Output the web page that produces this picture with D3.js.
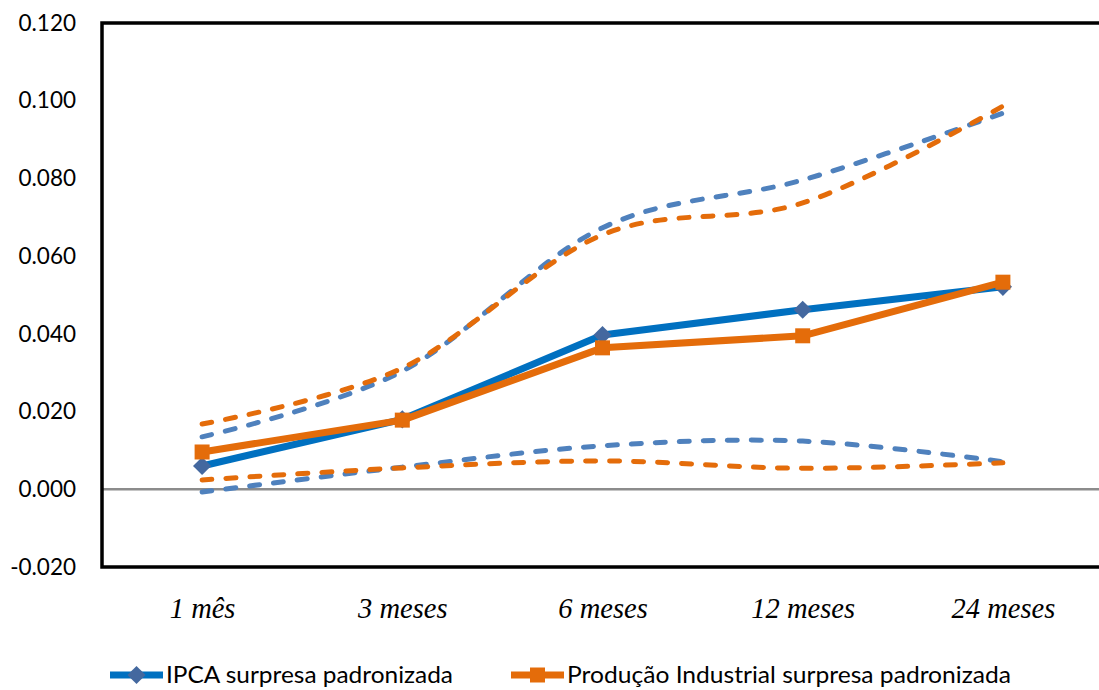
<!DOCTYPE html>
<html>
<head>
<meta charset="utf-8">
<script src="https://cdn.jsdelivr.net/npm/d3@7"></script>
<style>
  html, body { margin: 0; padding: 0; background: #fff; }
  svg { display: block; }
</style>
</head>
<body>
<svg id="chart" width="1099" height="690"></svg>
<script>
// Horizons (categories)
const horizons = ["1 mês", "3 meses", "6 meses", "12 meses", "24 meses"];

// IPCA: point response and confidence band
const ipcaMid   = [0.0060, 0.0180, 0.0397, 0.0462, 0.0521];
const ipcaUpper = [0.0135, 0.0304, 0.0673, 0.0796, 0.0968];
const ipcaLower = [-0.0007, 0.0057, 0.0112, 0.0124, 0.0071];

// Produção Industrial: point response and confidence band
const piMid   = [0.0096, 0.0178, 0.0364, 0.0395, 0.0533];
const piUpper = [0.0168, 0.0312, 0.0655, 0.0737, 0.0986];
const piLower = [0.0024, 0.0055, 0.0073, 0.0054, 0.0068];

// Y axis ticks
const yTicks = [-0.020, 0.000, 0.020, 0.040, 0.060, 0.080, 0.100, 0.120];

const legendLabels = ["IPCA surpresa padronizada", "Produção Industrial surpresa padronizada"];

const BLUE = "#0070C0", BLUE_DASH = "#4F81BD", BLUE_MARK = "#44689F";
const ORANGE = "#E46C0A";

const svg = d3.select("#chart");

const plot = { left: 102, right: 1103, top: 23, bottom: 567 };

const x = d3.scalePoint()
  .domain(horizons)
  .range([plot.left, plot.right])
  .padding(0.5);

const y = d3.scaleLinear()
  .domain([-0.020, 0.120])
  .range([plot.bottom, plot.top]);

// zero reference line
svg.append("line")
  .attr("x1", plot.left).attr("x2", 1099)
  .attr("y1", y(0)).attr("y2", y(0))
  .attr("stroke", "#8C8C8C").attr("stroke-width", 2.5);

// Y axis labels
const yAxis = d3.axisLeft(y)
  .tickValues(yTicks)
  .tickSize(0)
  .tickPadding(26)
  .tickFormat(d => d.toFixed(3));

const gy = svg.append("g")
  .attr("transform", `translate(${plot.left},0)`)
  .call(yAxis);
gy.select(".domain").remove();
gy.selectAll("text")
  .attr("font-family", "Lato, 'Open Sans', sans-serif")
  .attr("font-size", 22.5)
  .attr("fill", "#000");

// X axis labels
const xAxis = d3.axisBottom(x).tickSize(0).tickPadding(0);
const gx = svg.append("g")
  .attr("transform", `translate(0,${plot.bottom})`)
  .call(xAxis);
gx.select(".domain").remove();
gx.selectAll("text")
  .attr("y", 51)
  .attr("dy", 0)
  .attr("font-family", "'Liberation Serif', 'Times New Roman', serif")
  .attr("font-style", "italic")
  .attr("font-size", 28.5)
  .attr("fill", "#000");

// frame: left, top, bottom
const frame = svg.append("g").attr("stroke", "#000").attr("stroke-width", 3.5).attr("fill", "none");
frame.append("path")
  .attr("d", `M1099,${plot.top}H${plot.left}V${plot.bottom}H1099`)
  .attr("stroke-linejoin", "miter");

const smooth = d3.line()
  .x((d, i) => x(horizons[i]))
  .y(d => y(d))
  .curve(d3.curveCardinal.tension(0));

const straight = d3.line()
  .x((d, i) => x(horizons[i]))
  .y(d => y(d));

function dashed(data, color) {
  svg.append("path")
    .datum(data)
    .attr("d", smooth)
    .attr("fill", "none")
    .attr("stroke", color)
    .attr("stroke-width", 5)
    .attr("stroke-linecap", "round")
    .attr("stroke-dasharray", "10 14");
}

dashed(ipcaUpper, BLUE_DASH);
dashed(ipcaLower, BLUE_DASH);
dashed(piUpper, ORANGE);
dashed(piLower, ORANGE);

const diamond = d3.symbol().type(d3.symbolSquare).size(165);
const square = d3.symbol().type(d3.symbolSquare).size(225);

// IPCA point response
svg.append("path").datum(ipcaMid).attr("d", straight)
  .attr("fill", "none").attr("stroke", BLUE).attr("stroke-width", 7)
  .attr("stroke-linejoin", "round");
svg.append("g").selectAll("path").data(ipcaMid).join("path")
  .attr("d", diamond)
  .attr("transform", (d, i) => `translate(${x(horizons[i])},${y(d)}) rotate(45)`)
  .attr("fill", BLUE_MARK);

// Produção Industrial point response
svg.append("path").datum(piMid).attr("d", straight)
  .attr("fill", "none").attr("stroke", ORANGE).attr("stroke-width", 7)
  .attr("stroke-linejoin", "round");
svg.append("g").selectAll("path").data(piMid).join("path")
  .attr("d", square)
  .attr("transform", (d, i) => `translate(${x(horizons[i])},${y(d)})`)
  .attr("fill", ORANGE);

// Legend
const legendY = 675;
const legendItems = [
  { label: legendLabels[0], color: BLUE, markColor: BLUE_MARK, sym: diamond, rot: 45, x0: 110, textX: 166, textW: 287 },
  { label: legendLabels[1], color: ORANGE, markColor: ORANGE, sym: square, rot: 0, x0: 511, textX: 567, textW: 444 }
];
const lg = svg.append("g");
legendItems.forEach(it => {
  lg.append("line")
    .attr("x1", it.x0).attr("x2", it.x0 + 53)
    .attr("y1", legendY).attr("y2", legendY)
    .attr("stroke", it.color).attr("stroke-width", 7);
  lg.append("path")
    .attr("d", it.sym)
    .attr("transform", `translate(${it.x0 + 26.5},${legendY}) rotate(${it.rot})`)
    .attr("fill", it.markColor);
  lg.append("text")
    .attr("x", it.textX).attr("y", legendY + 8)
    .attr("font-family", "Lato, 'Open Sans', sans-serif")
    .attr("font-size", 22.5)
    .attr("textLength", it.textW)
    .attr("lengthAdjust", "spacingAndGlyphs")
    .attr("fill", "#000")
    .text(it.label);
});
</script>
</body>
</html>
